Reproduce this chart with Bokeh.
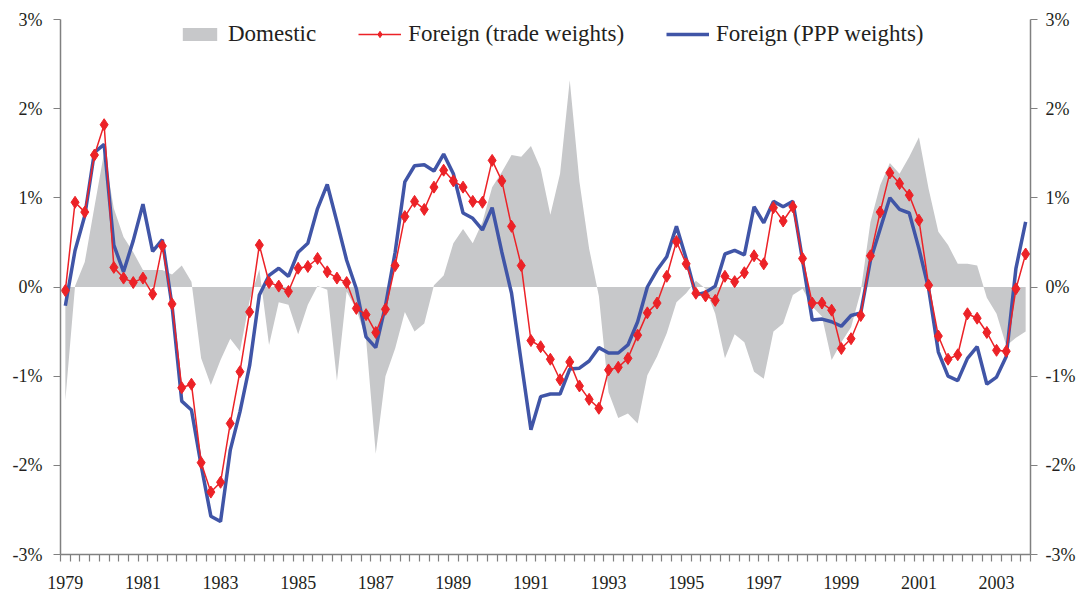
from bokeh.plotting import figure
from bokeh.models import (LinearAxis, FixedTicker, PrintfTickFormatter, Range1d,
                          Legend, LegendItem, ColumnDataSource)
from bokeh.embed import file_html
from bokeh.resources import INLINE

# ---------------- data (quarterly, 1979Q1 .. 2003Q4) ----------------
start_year = 1979
n_quarters = 100

domestic = [
    -1.27, 0.01, 0.28, 0.90, 1.51, 0.88, 0.56, 0.39, 0.19, 0.19,
    0.19, 0.14, 0.24, 0.06, -0.80, -1.10, -0.82, -0.58, -0.72, -0.15,
    0.20, -0.65, -0.17, -0.20, -0.53, -0.20, 0.01, -0.03, -1.05, -0.05,
    -0.25, -0.58, -1.87, -1.00, -0.69, -0.28, -0.50, -0.41, 0.02, 0.13,
    0.49, 0.65, 0.49, 0.73, 1.12, 1.29, 1.48, 1.46, 1.58, 1.33,
    0.81, 1.27, 2.32, 1.18, 0.43, -0.10, -1.18, -1.47, -1.42, -1.53,
    -0.99, -0.78, -0.52, -0.17, -0.07, 0.07, -0.02, -0.30, -0.80, -0.53,
    -0.62, -0.95, -1.03, -0.50, -0.41, -0.09, -0.02, -0.22, -0.33, -0.82,
    -0.62, -0.45, -0.05, 0.73, 1.14, 1.39, 1.27, 1.46, 1.68, 1.10,
    0.62, 0.47, 0.26, 0.26, 0.24, -0.12, -0.30, -0.66, -0.57, -0.50,
]

foreign_trade = [
    -0.04, 0.95, 0.84, 1.48, 1.82, 0.22, 0.10, 0.05, 0.10, -0.08,
    0.46, -0.19, -1.13, -1.09, -1.97, -2.30, -2.19, -1.53, -0.95, -0.28,
    0.47, 0.05, 0.01, -0.05, 0.21, 0.23, 0.32, 0.17, 0.10, 0.05,
    -0.24, -0.31, -0.51, -0.25, 0.24, 0.79, 0.96, 0.87, 1.12, 1.31,
    1.19, 1.12, 0.96, 0.95, 1.42, 1.19, 0.68, 0.24, -0.60, -0.67,
    -0.81, -1.04, -0.84, -1.11, -1.26, -1.36, -0.93, -0.90, -0.80, -0.54,
    -0.29, -0.18, 0.12, 0.51, 0.26, -0.07, -0.10, -0.15, 0.12, 0.06,
    0.16, 0.35, 0.26, 0.89, 0.74, 0.90, 0.32, -0.18, -0.18, -0.26,
    -0.69, -0.58, -0.32, 0.35, 0.84, 1.28, 1.16, 1.03, 0.75, 0.02,
    -0.55, -0.81, -0.76, -0.30, -0.35, -0.51, -0.71, -0.72, -0.02, 0.37,
]

foreign_ppp = [
    -0.21, 0.41, 0.80, 1.51, 1.60, 0.47, 0.17, 0.52, 0.93, 0.40,
    0.53, -0.21, -1.28, -1.38, -2.00, -2.57, -2.63, -1.83, -1.40, -0.88,
    -0.09, 0.13, 0.21, 0.12, 0.39, 0.49, 0.88, 1.15, 0.73, 0.30,
    -0.02, -0.56, -0.68, -0.21, 0.39, 1.18, 1.36, 1.37, 1.30, 1.49,
    1.27, 0.83, 0.77, 0.64, 0.89, 0.39, -0.07, -0.84, -1.60, -1.23,
    -1.20, -1.20, -0.92, -0.91, -0.83, -0.68, -0.74, -0.74, -0.65, -0.39,
    0.00, 0.19, 0.34, 0.68, 0.32, -0.09, -0.06, 0.01, 0.37, 0.41,
    0.36, 0.90, 0.72, 0.96, 0.90, 0.96, 0.30, -0.37, -0.36, -0.39,
    -0.44, -0.32, -0.29, 0.30, 0.65, 1.00, 0.87, 0.83, 0.43, -0.02,
    -0.73, -1.00, -1.05, -0.80, -0.67, -1.09, -1.01, -0.78, 0.21, 0.73,
]

tick_years = [1979, 1981, 1983, 1985, 1987, 1989, 1991, 1993, 1995, 1997, 1999, 2001, 2003]
y_ticks = [-3, -2, -1, 0, 1, 2, 3]

# ---------------- styles ----------------
GREY = "#C7C8CA"
RED = "#EC2227"
BLUE = "#4055A7"
AXIS = "#808080"
TEXT = "#231F20"
FONT = "Liberation Serif"

quarter_index = list(range(n_quarters))
src = ColumnDataSource(dict(x=quarter_index, dom=domestic, trade=foreign_trade,
                            ppp=foreign_ppp, zero=[0.0] * n_quarters))

p = figure(frame_width=970, frame_height=535,
           x_range=Range1d(-0.5, n_quarters - 0.5), y_range=Range1d(-3, 3),
           output_backend="svg", toolbar_location=None,
           min_border_left=60, min_border_top=19, min_border_right=46,
           min_border_bottom=42)
p.xgrid.visible = False
p.ygrid.visible = False
p.outline_line_color = None
p.background_fill_color = "white"
p.border_fill_color = "white"

r_dom = p.varea(x="x", y1="zero", y2="dom", source=src, fill_color=GREY)
r_ppp = p.line("x", "ppp", source=src, line_color=BLUE, line_width=3.5)
r_tl = p.line("x", "trade", source=src, line_color=RED, line_width=1.5)
r_tm = p.scatter("x", "trade", source=src, marker="diamond",
                 size=12, fill_color=RED, line_color=RED, line_width=1)

legend = Legend(items=[
    LegendItem(label="Domestic", renderers=[r_dom]),
    LegendItem(label="Foreign (trade weights)", renderers=[r_tl, r_tm]),
    LegendItem(label="Foreign (PPP weights)", renderers=[r_ppp]),
], location=(118, 507), orientation="horizontal",
    label_text_font=FONT, label_text_font_size="23px", label_text_color=TEXT,
    glyph_width=43, glyph_height=16, label_standoff=7, spacing=42,
    border_line_color=None, background_fill_alpha=0, margin=0, padding=3)
p.add_layout(legend)

# x axis
xa = p.xaxis[0]
major_pos = [(y - start_year) * 4 for y in tick_years]
xa.ticker = FixedTicker(ticks=major_pos,
                        minor_ticks=[i - 0.5 for i in range(n_quarters + 1)])
xa.major_label_overrides = {pos: str(y) for pos, y in zip(major_pos, tick_years)}
xa.major_tick_in = 0
xa.major_tick_out = 0
xa.minor_tick_in = 0
xa.minor_tick_out = 7
xa.minor_tick_line_color = AXIS
xa.minor_tick_line_width = 1.2
xa.axis_line_color = AXIS
xa.axis_line_width = 1.5
xa.major_label_standoff = 14
xa.major_label_text_font = FONT
xa.major_label_text_font_size = "18px"
xa.major_label_text_color = TEXT


def style_y(ax, standoff):
    ax.ticker = FixedTicker(ticks=y_ticks, minor_ticks=[])
    ax.formatter = PrintfTickFormatter(format="%d%%")
    ax.major_tick_in = 0
    ax.major_tick_out = 7
    ax.minor_tick_in = 0
    ax.minor_tick_out = 0
    ax.major_tick_line_color = AXIS
    ax.major_tick_line_width = 1.2
    ax.axis_line_color = AXIS
    ax.axis_line_width = 1.5
    ax.major_label_standoff = standoff
    ax.major_label_text_font = FONT
    ax.major_label_text_font_size = "18px"
    ax.major_label_text_color = TEXT


style_y(p.yaxis[0], 11)
right = LinearAxis()
style_y(right, 8)
p.add_layout(right, "right")

open("out.html", "w").write(file_html(p, INLINE))
